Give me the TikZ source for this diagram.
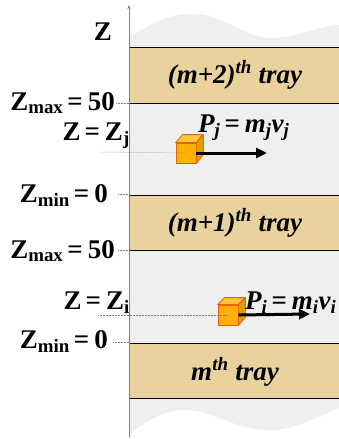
\documentclass[tikz,border=0pt]{standalone}
\usepackage{fontspec}
\setmainfont{Liberation Serif}
\usepackage{xcolor}
\usepackage{tikz}
\usetikzlibrary{calc,arrows.meta,positioning}
\definecolor{bgx}{HTML}{EFEFEF}
\definecolor{trayx}{HTML}{E9D29E}
\definecolor{axisx}{HTML}{7F7F7F}
\definecolor{cubefr}{HTML}{FFB000}
\definecolor{cubetop}{HTML}{FFC83A}
\definecolor{cubesd}{HTML}{DDA000}
\definecolor{cubeln}{HTML}{E8620E}
\newcommand{\zsub}[1]{Z\textsubscript{#1}}
\newcommand{\eqs}{\hspace{4pt}=\hspace{5pt}}
\newcommand{\bigtxt}{\fontsize{27}{27}\selectfont\bfseries}
\tikzset{
  tray/.style={fill=trayx,draw=black,line width=0.9pt},
  lbl/.style={font=\bigtxt,inner sep=0pt,anchor=base east},
  traylbl/.style={font=\bigtxt\itshape,inner sep=0pt,anchor=base},
  momlbl/.style={font=\bigtxt\itshape,inner sep=0pt,anchor=base west},
  dotln/.style={axisx,densely dotted,line width=0.5pt},
  ax/.style={-{Stealth[length=4pt,width=3pt]},axisx,line width=0.9pt},
  mom/.style={-{Triangle[length=11pt,width=10pt]},line width=3pt,black},
  cubefront/.style={fill=cubefr,draw=cubeln,line width=0.8pt,minimum size=20pt,inner sep=0pt},
  cubeface/.style={draw=cubeln,line width=0.8pt,line join=round}
}
\begin{document}
\begin{tikzpicture}[x=1pt,y=-1pt]
\clip (0,0) rectangle (339,439);
\fill[white] (0,0) rectangle (339,439);
% background sheet
\fill[bgx] (129,37) .. controls (150,25) and (168,13) .. (195,14)
  .. controls (225,15) and (245,38) .. (270,38)
  .. controls (300,38) and (320,25) .. (339,25) -- (339,408)
  .. controls (310,420) and (290,432) .. (265,430)
  .. controls (230,428) and (210,408) .. (180,410)
  .. controls (160,412) and (140,425) .. (129,435) -- cycle;
% trays
\draw[tray] (129,47) rectangle (345,103);
\draw[tray] (129,195) rectangle (345,250);
\draw[tray] (129,343) rectangle (345,398);
\node[traylbl] (t2) at (235,83) {(m+2)\textsuperscript{th} tray};
\node[traylbl] (t1) at (235,231) {(m+1)\textsuperscript{th} tray};
\node[traylbl] (t0) at (235,380) {m\textsuperscript{th} tray};
% axis
\coordinate (ab) at (129,437);
\coordinate (at) at (129,5);
\draw[ax] (ab) -- (at);
\node[lbl] (zax) at (112,40) {Z};
% left labels
\node[lbl] (zmax2) at (115,110) {\zsub{max}\eqs50};
\node[lbl] (zj) at (130,140) {Z\eqs\zsub{j}};
\node[lbl] (zmin1) at (108,202) {\zsub{min}\eqs0};
\node[lbl] (zmax1) at (115,258) {\zsub{max}\eqs50};
\node[lbl] (zi) at (130,309) {Z\eqs\zsub{i}};
\node[lbl] (zmin0) at (108,348) {\zsub{min}\eqs0};
\draw[dotln] (zmax2.base east) ++(1,-7) -- (129,103);
\draw[dotln] (zmin1.base east) ++(10,-8) -- (129,194);
\draw[dotln] (zmax1.base east) ++(3,-8) -- (129,250);
\draw[dotln] (zmin0.base east) ++(5,-6) -- (129,342);
% particle j
\node[cubefront] (cj) at (186,153) {};
\draw[cubeface,fill=cubetop] (cj.north west) -- ++(7,-8) -- ++(20,0) -- (cj.north east) -- cycle;
\draw[cubeface,fill=cubesd] (cj.north east) -- ++(7,-8) -- ++(0,20) -- (cj.south east) -- cycle;
\draw[dotln] (100,152) -- (cj.center);
\coordinate (tipj) at (267,153);
\draw[mom] (cj.east) -- (tipj);
\node[momlbl] (pj) at (198,132) {P\textsubscript{j}\eqs m\textsubscript{j}v\textsubscript{j}};
% particle i
\node[cubefront] (ci) at (228,315) {};
\draw[cubeface,fill=cubetop] (ci.north west) -- ++(7,-7) -- ++(20,0) -- (ci.north east) -- cycle;
\draw[cubeface,fill=cubesd] (ci.north east) -- ++(7,-7) -- ++(0,20) -- (ci.south east) -- cycle;
\draw[dotln] (98,315) -- (ci.center);
\coordinate (tipi) at (310,314);
\draw[mom] (ci.east) -- (tipi);
\node[momlbl] (pi) at (245,309) {P\textsubscript{i}\eqs m\textsubscript{i}v\textsubscript{i}};
\end{tikzpicture}
\end{document}
